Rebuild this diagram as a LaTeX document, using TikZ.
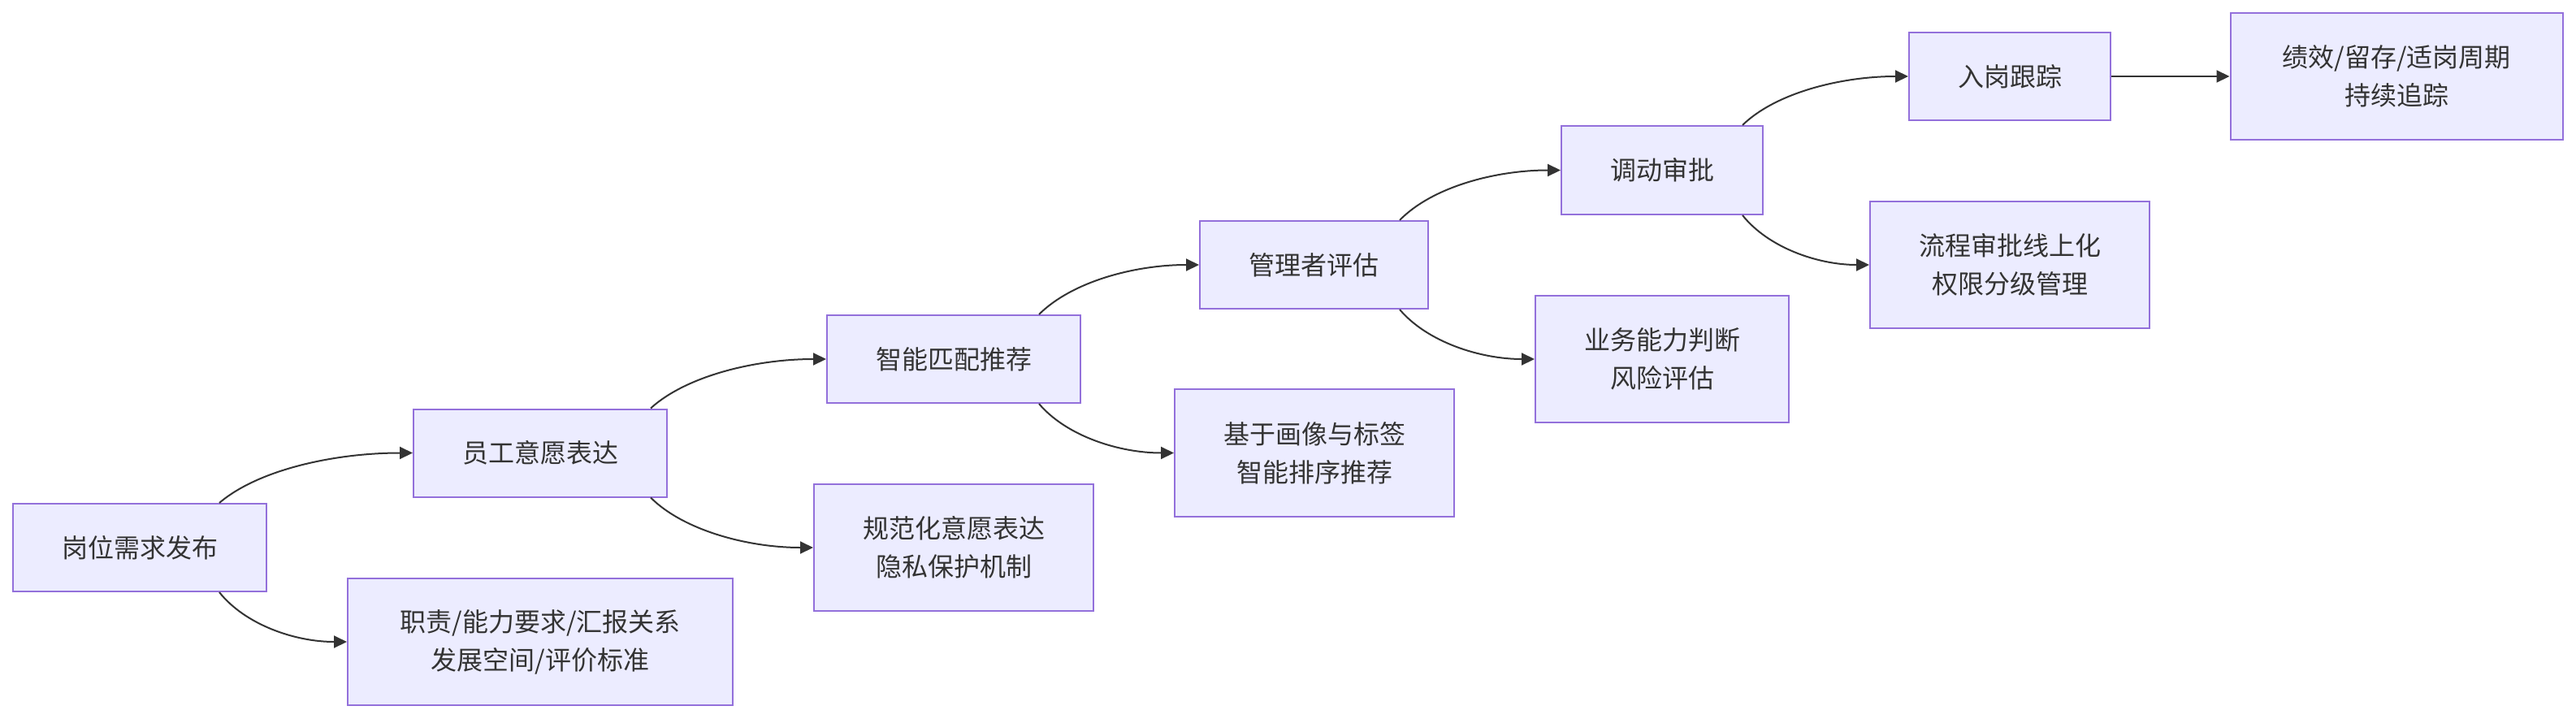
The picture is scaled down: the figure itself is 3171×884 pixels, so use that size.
\documentclass[tikz,border=0pt]{standalone}
\usepackage{fontspec}
\setmainfont{Noto Sans CJK SC}
\usetikzlibrary{arrows.meta,calc}
\definecolor{boxfill}{HTML}{ECECFF}
\definecolor{boxline}{HTML}{9370DB}
\definecolor{ink}{HTML}{333333}
\begin{document}
\begin{tikzpicture}[x=0.5pt,y=-0.5pt,
  box/.style={rectangle,draw=boxline,fill=boxfill,line width=1pt,inner sep=0pt,
    align=center,text=ink,font=\fontsize{16pt}{23.5pt}\selectfont},
  arr/.style={draw=ink,line width=1pt,-{Triangle[length=8pt,width=7.5pt]}}]
\useasboundingbox (0,0) rectangle (3171,884);
\node[box,minimum width=156pt,minimum height=54pt] (A) at (172,674) {岗位需求发布};
\node[box,minimum width=156pt,minimum height=54pt] (B) at (665,557.5) {员工意愿表达};
\node[box,minimum width=237pt,minimum height=78pt] (C) at (665,790) {职责/能力要求/汇报关系\\发展空间/评价标准};
\node[box,minimum width=156pt,minimum height=54pt] (D) at (1174,442) {智能匹配推荐};
\node[box,minimum width=172pt,minimum height=78pt] (E) at (1174,674) {规范化意愿表达\\隐私保护机制};
\node[box,minimum width=140.5pt,minimum height=54pt] (F) at (1617.5,326) {管理者评估};
\node[box,minimum width=172pt,minimum height=78.5pt] (G) at (1618,557.5) {基于画像与标签\\智能排序推荐};
\node[box,minimum width=124pt,minimum height=54.5pt] (H) at (2046,209.5) {调动审批};
\node[box,minimum width=156pt,minimum height=78pt] (I) at (2046,442) {业务能力判断\\风险评估};
\node[box,minimum width=124pt,minimum height=54pt] (J) at (2474,94) {入岗跟踪};
\node[box,minimum width=172pt,minimum height=78pt] (K) at (2474,326) {流程审批线上化\\权限分级管理};
\node[box,minimum width=204.5pt,minimum height=78pt] (L) at (2950,94) {绩效/留存/适岗周期\\持续追踪};

\draw[arr] ($(A.north east)+(-59,0)$) .. controls +(48,-41) and +(-96,0) .. (B.west);
\draw[arr] ($(A.south east)+(-59,0)$) .. controls +(32,40) and +(-64,0) .. (C.west);
\draw[arr] ($(B.north east)+(-21,0)$) .. controls +(44,-40) and +(-87,0) .. (D.west);
\draw[arr] ($(B.south east)+(-21,0)$) .. controls +(40,40) and +(-81,0) .. (E.west);
\draw[arr] ($(D.north east)+(-52,0)$) .. controls +(40,-40) and +(-80,0) .. (F.west);
\draw[arr] ($(D.south east)+(-52,0)$) .. controls +(34,40) and +(-67,0) .. (G.west);
\draw[arr] ($(F.north east)+(-36,0)$) .. controls +(40,-41) and +(-80,0) .. (H.west);
\draw[arr] ($(F.south east)+(-36,0)$) .. controls +(34,40) and +(-67,0) .. (I.west);
\draw[arr] ($(H.north east)+(-26,0)$) .. controls +(41,-40) and +(-82,0) .. (J.west);
\draw[arr] ($(H.south east)+(-26,0)$) .. controls +(32,40) and +(-63,0) .. (K.west);
\draw[arr] (J.east) -- (L.west);
\end{tikzpicture}
\end{document}
